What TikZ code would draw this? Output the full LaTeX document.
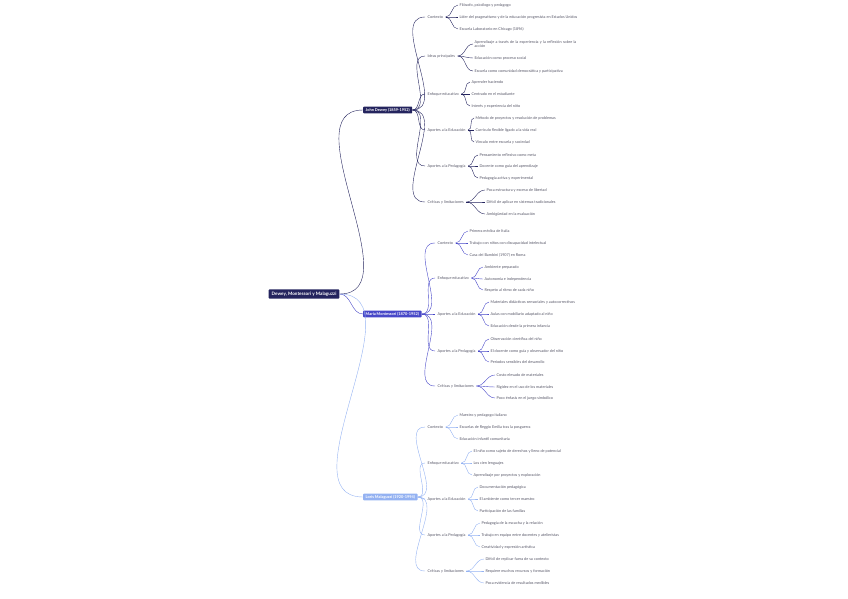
\documentclass[tikz,border=0pt]{standalone}
\usepackage{fontspec}
\setmainfont{Lato}
\definecolor{navy}{HTML}{24245E}
\definecolor{midblue}{HTML}{4848C8}
\definecolor{lightblue}{HTML}{94B2F2}
\definecolor{txt}{HTML}{555566}
\tikzset{
  rootbox/.style={fill=navy, text=white, font=\fontsize{4.6}{5}\selectfont\bfseries, inner xsep=3pt, inner ysep=2.4pt, rounded corners=0.8pt},
  mainbox/.style={text=white, font=\fontsize{3.9}{4.5}\selectfont\bfseries, inner xsep=2.5pt, inner ysep=1.6pt, rounded corners=0.8pt, anchor=west},
  topic/.style={text=txt, font=\fontsize{3.8}{4.5}\selectfont, inner sep=0.6pt, outer sep=2pt, anchor=west},
  leaf/.style={text=txt, font=\fontsize{3.8}{4.5}\selectfont, inner sep=0.6pt, outer sep=1pt, anchor=west},
  link/.style={line width=#1, out=0, in=180},
}
\begin{document}
\begin{tikzpicture}[x=1pt, y=-1pt]
\useasboundingbox (0,0) rectangle (848,599);
% Root
\node[rootbox] (root) at (304,294) {Dewey, Montessori y Malaguzzi};
% Main branches
\node[mainbox, fill=navy] (dewey) at (363,110) {John Dewey (1859-1952)};
\node[mainbox, fill=midblue] (mont) at (363,314) {María Montessori (1870-1952)};
\node[mainbox, fill=lightblue] (malag) at (363,497) {Loris Malaguzzi (1920-1994)};
\draw[navy] (root.east) to[link=0.9pt] (dewey.west);
\draw[midblue] (root.east) to[link=0.9pt] (mont.west);
\draw[lightblue] (root.east) to[link=0.9pt] (malag.west);

% John Dewey
\node[topic] (d1) at (425,17) {Contexto};
\node[topic] (d2) at (425,56) {Ideas principales};
\node[topic] (d3) at (425,94) {Enfoque educativo};
\node[topic] (d4) at (425,130) {Aportes a la Educación};
\node[topic] (d5) at (425,166) {Aportes a la Pedagogía};
\node[topic] (d6) at (425,202) {Críticas y limitaciones};
\node[leaf] (d1a) at (458,5) {Filósofo, psicólogo y pedagogo};
\node[leaf] (d1b) at (458,17) {Líder del pragmatismo y de la educación progresista en Estados Unidos};
\node[leaf] (d1c) at (458,29) {Escuela Laboratorio en Chicago (1896)};
\node[leaf, text width=104pt, align=left] (d2a) at (473,44) {Aprendizaje a través de la experiencia y la reflexión sobre la acción};
\node[leaf] (d2b) at (473,58) {Educación como proceso social};
\node[leaf] (d2c) at (473,71) {Escuela como comunidad democrática y participativa};
\node[leaf] (d3a) at (470,82) {Aprender haciendo};
\node[leaf] (d3b) at (470,94) {Centrado en el estudiante};
\node[leaf] (d3c) at (470,106) {Interés y experiencia del niño};
\node[leaf] (d4a) at (474,118) {Método de proyectos y resolución de problemas};
\node[leaf] (d4b) at (474,130) {Currículo flexible ligado a la vida real};
\node[leaf] (d4c) at (474,142) {Vínculo entre escuela y sociedad};
\node[leaf] (d5a) at (478,155) {Pensamiento reflexivo como meta};
\node[leaf] (d5b) at (478,166) {Docente como guía del aprendizaje};
\node[leaf] (d5c) at (478,178) {Pedagogía activa y experimental};
\node[leaf] (d6a) at (485,190) {Poca estructura y exceso de libertad};
\node[leaf] (d6b) at (485,202) {Difícil de aplicar en sistemas tradicionales};
\node[leaf] (d6c) at (485,214) {Ambigüedad en la evaluación};

% Maria Montessori
\node[topic] (m1) at (435,243) {Contexto};
\node[topic] (m2) at (435,278) {Enfoque educativo};
\node[topic] (m3) at (435,314) {Aportes a la Educación};
\node[topic] (m4) at (435,351) {Aportes a la Pedagogía};
\node[topic] (m5) at (435,386) {Críticas y limitaciones};
\node[leaf] (m1a) at (468,231) {Primera médica de Italia};
\node[leaf] (m1b) at (468,243) {Trabajo con niños con discapacidad intelectual};
\node[leaf] (m1c) at (468,255) {Casa dei Bambini (1907) en Roma};
\node[leaf] (m2a) at (483,267) {Ambiente preparado};
\node[leaf] (m2b) at (483,279) {Autonomía e independencia};
\node[leaf] (m2c) at (483,290) {Respeto al ritmo de cada niño};
\node[leaf] (m3a) at (489,302) {Materiales didácticos sensoriales y autocorrectivos};
\node[leaf] (m3b) at (489,314) {Aulas con mobiliario adaptado al niño};
\node[leaf] (m3c) at (489,326) {Educación desde la primera infancia};
\node[leaf] (m4a) at (489,339) {Observación científica del niño};
\node[leaf] (m4b) at (489,351) {El docente como guía y observador del niño};
\node[leaf] (m4c) at (489,362) {Periodos sensibles del desarrollo};
\node[leaf] (m5a) at (495,375) {Costo elevado de materiales};
\node[leaf] (m5b) at (495,387) {Rigidez en el uso de los materiales};
\node[leaf] (m5c) at (495,398) {Poco énfasis en el juego simbólico};

% Loris Malaguzzi
\node[topic] (l1) at (425,427) {Contexto};
\node[topic] (l2) at (425,463) {Enfoque educativo};
\node[topic] (l3) at (425,499) {Aportes a la Educación};
\node[topic] (l4) at (425,535) {Aportes a la Pedagogía};
\node[topic] (l5) at (425,571) {Críticas y limitaciones};
\node[leaf] (l1a) at (458,415) {Maestro y pedagogo italiano};
\node[leaf] (l1b) at (458,427) {Escuelas de Reggio Emilia tras la posguerra};
\node[leaf] (l1c) at (458,439) {Educación infantil comunitaria};
\node[leaf] (l2a) at (472,451) {El niño como sujeto de derechos y lleno de potencial};
\node[leaf] (l2b) at (472,463) {Los cien lenguajes};
\node[leaf] (l2c) at (472,475) {Aprendizaje por proyectos y exploración};
\node[leaf] (l3a) at (478,487) {Documentación pedagógica};
\node[leaf] (l3b) at (478,499) {El ambiente como tercer maestro};
\node[leaf] (l3c) at (478,511) {Participación de las familias};
\node[leaf] (l4a) at (480,523) {Pedagogía de la escucha y la relación};
\node[leaf] (l4b) at (480,535) {Trabajo en equipo entre docentes y atelieristas};
\node[leaf] (l4c) at (480,547) {Creatividad y expresión artística};
\node[leaf] (l5a) at (484,559) {Difícil de replicar fuera de su contexto};
\node[leaf] (l5b) at (484,571) {Requiere muchos recursos y formación};
\node[leaf] (l5c) at (484,583) {Poca evidencia de resultados medibles};

% Connectors
\foreach \s in {d1,d2,d3,d4,d5,d6}{
  \draw[navy] (dewey.east) to[link=0.6pt] (\s.west);
  \foreach \l in {a,b,c} \draw[navy] (\s.east) to[link=0.35pt] (\s\l.west);
}
\foreach \s in {m1,m2,m3,m4,m5}{
  \draw[midblue] (mont.east) to[link=0.6pt] (\s.west);
  \foreach \l in {a,b,c} \draw[midblue] (\s.east) to[link=0.35pt] (\s\l.west);
}
\foreach \s in {l1,l2,l3,l4,l5}{
  \draw[lightblue] (malag.east) to[link=0.6pt] (\s.west);
  \foreach \l in {a,b,c} \draw[lightblue] (\s.east) to[link=0.35pt] (\s\l.west);
}
\end{tikzpicture}
\end{document}
